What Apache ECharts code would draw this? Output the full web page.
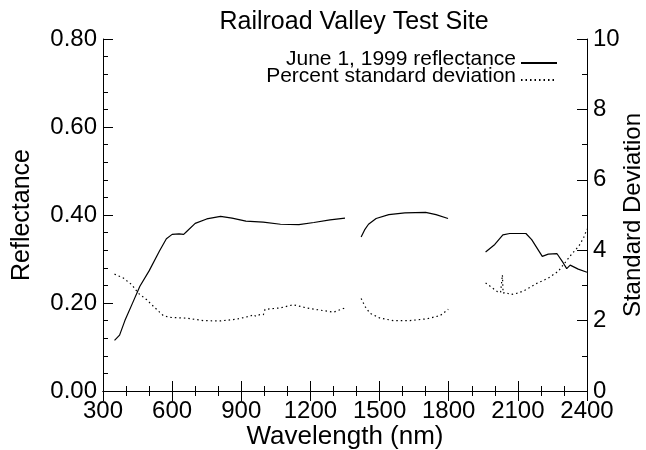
<!DOCTYPE html>
<html>
<head>
<meta charset="utf-8">
<script src="https://cdn.jsdelivr.net/npm/echarts@6/dist/echarts.min.js"></script>
<style>
  html, body { margin: 0; padding: 0; background: #fff; }
  #chart { width: 646px; height: 450px; }
</style>
</head>
<body>
<div id="chart"></div>
<script>
// reflectance, June 1 1999 (left axis); null = gap in the curve
const reflNm = [350, 372, 395, 430, 460, 500, 545, 575, 600, 630, 650, 662, 700, 750, 810, 860, 920, 995, 1000, 1070, 1150, 1215, 1285, 1350,
  1390,
  1420, 1435, 1452, 1485, 1540, 1610, 1700, 1745, 1797,
  1880,
  1960, 2000, 2035, 2065, 2135, 2160, 2206, 2232, 2270, 2297, 2312, 2327, 2362, 2400];
const reflVal = [0.115, 0.127, 0.160, 0.202, 0.238, 0.273, 0.318, 0.346, 0.356, 0.357, 0.356, 0.362, 0.381, 0.391, 0.397, 0.393, 0.386, 0.384, 0.380, 0.379, 0.378, 0.383, 0.389, 0.393,
  null,
  0.350, 0.366, 0.379, 0.392, 0.401, 0.405, 0.406, 0.401, 0.392,
  null,
  0.316, 0.333, 0.355, 0.358, 0.358, 0.344, 0.306, 0.311, 0.312, 0.291, 0.278, 0.286, 0.277, 0.270];

// percent standard deviation (right axis)
const sdNm = [350, 388, 425, 453, 490, 526, 562, 591, 663, 735, 808, 880, 920, 940, 950, 965, 980, 996, 1003, 1068, 1126, 1184, 1240, 1300, 1350,
  1390,
  1420, 1437, 1458, 1502, 1560, 1632, 1704, 1762, 1798,
  1880,
  1960, 1985, 2012, 2025, 2033, 2036, 2045, 2070, 2100, 2130, 2180, 2230, 2275, 2305, 2335, 2365, 2385, 2400];
const sdVal = [3.32, 3.21, 3.02, 2.78, 2.59, 2.36, 2.14, 2.09, 2.07, 2.00, 1.99, 2.04, 2.10, 2.13, 2.17, 2.12, 2.17, 2.17, 2.32, 2.36, 2.45, 2.36, 2.30, 2.24, 2.36,
  null,
  2.63, 2.40, 2.21, 2.07, 2.00, 2.00, 2.05, 2.14, 2.32,
  null,
  3.07, 2.95, 2.82, 2.80, 3.30, 2.78, 2.80, 2.74, 2.78, 2.86, 3.05, 3.20, 3.40, 3.65, 3.90, 4.12, 4.35, 4.60];

const FONT = "'Liberation Sans', Arial, Helvetica, sans-serif";

const chart = echarts.init(document.getElementById('chart'), null, { renderer: 'canvas' });

function pairs(xs, ys) {
  return xs.map(function (x, i) { return [x, ys[i]]; });
}

const tickCommon = {
  nameMoveOverlap: false,
  axisLine: { show: true, lineStyle: { color: '#000', width: 1 } },
  axisTick: { show: true, inside: true, length: 10, lineStyle: { color: '#000' } },
  minorTick: { show: true, length: 5, lineStyle: { color: '#000' } },
  splitLine: { show: false }
};

const option = {
  animation: false,
  backgroundColor: '#fff',
  title: {
    text: 'Railroad Valley Test Site',
    left: 349,
    top: 5,
    textAlign: 'center',
    textStyle: { fontFamily: FONT, fontSize: 25, fontWeight: 'normal', color: '#000' }
  },
  legend: {
    orient: 'vertical',
    align: 'right',
    right: 83,
    top: 44,
    itemWidth: 36,
    itemHeight: 12,
    itemGap: -11,
    selectedMode: false,
    itemStyle: { opacity: 0 },
    formatter: '{t|{name}}',
    textStyle: {
      fontFamily: FONT, fontSize: 21, color: '#000',
      rich: { t: { fontFamily: FONT, fontSize: 21, color: '#000', lineHeight: 17, padding: [0, 0, 7, 0] } }
    },
    data: ['June 1, 1999 reflectance', 'Percent standard deviation']
  },
  grid: { left: 103, right: 59, top: 39, bottom: 59, outerBoundsMode: 'none', containLabel: false },
  xAxis: [
    Object.assign({
      type: 'value', position: 'bottom', min: 300, max: 2400, interval: 300,
      name: 'Wavelength (nm)', nameLocation: 'middle', nameGap: 33,
      nameTextStyle: { fontFamily: FONT, fontSize: 26, color: '#000' },
      axisLabel: { fontFamily: FONT, fontSize: 24, color: '#000', margin: 8,
        formatter: function (v) { return String(v); } }
    }, tickCommon, { minorTick: { show: true, splitNumber: 3, length: 5, lineStyle: { color: '#000' } } }),
    Object.assign({
      type: 'value', position: 'top', min: 300, max: 2400, interval: 300,
      axisLabel: { show: false }
    }, tickCommon, { minorTick: { show: true, splitNumber: 3, length: 5, lineStyle: { color: '#000' } } })
  ],
  yAxis: [
    Object.assign({
      type: 'value', position: 'left', min: 0, max: 0.8, interval: 0.2,
      name: 'Reflectance', nameLocation: 'middle', nameGap: 68, nameRotate: 90,
      nameTextStyle: { fontFamily: FONT, fontSize: 25, color: '#000' },
      axisLabel: { fontFamily: FONT, fontSize: 24, color: '#000', margin: 6,
        formatter: function (v) { return v.toFixed(2); } }
    }, tickCommon, { minorTick: { show: true, splitNumber: 5, length: 5, lineStyle: { color: '#000' } } }),
    Object.assign({
      type: 'value', position: 'right', min: 0, max: 10, interval: 2,
      name: 'Standard Deviation', nameLocation: 'middle', nameGap: 34, nameRotate: 90,
      nameTextStyle: { fontFamily: FONT, fontSize: 24, color: '#000' },
      axisLabel: { fontFamily: FONT, fontSize: 24, color: '#000', margin: 6 }
    }, tickCommon, { minorTick: { show: true, splitNumber: 2, length: 5, lineStyle: { color: '#000' } } })
  ],
  series: [
    {
      name: 'June 1, 1999 reflectance',
      type: 'line',
      xAxisIndex: 0,
      yAxisIndex: 0,
      symbol: 'none',
      connectNulls: false,
      lineStyle: { color: '#000', width: 1.2 },
      itemStyle: { color: '#000' },
      data: pairs(reflNm, reflVal)
    },
    {
      name: 'Percent standard deviation',
      type: 'line',
      xAxisIndex: 0,
      yAxisIndex: 1,
      symbol: 'none',
      connectNulls: false,
      lineStyle: { color: '#000', width: 1.2, type: [1.5, 3] },
      itemStyle: { color: '#000' },
      data: pairs(sdNm, sdVal)
    }
  ]
};

chart.setOption(option);
</script>
</body>
</html>
